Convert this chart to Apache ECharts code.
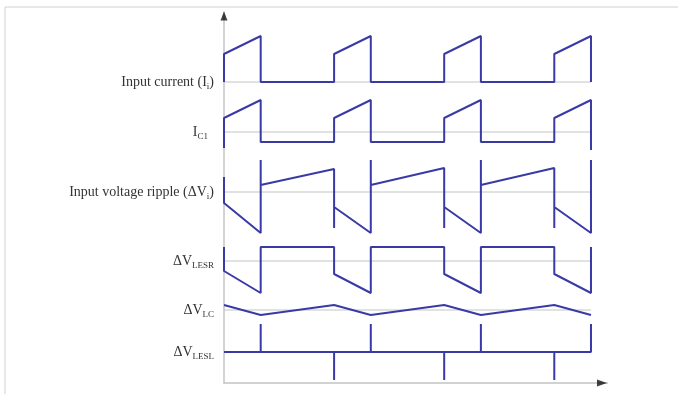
<!DOCTYPE html>
<html lang="en">
<head>
    <meta charset="utf-8">
    <script src="https://cdn.jsdelivr.net/npm/echarts@6.0.0/dist/echarts.min.js"></script>
    <title>Input ripple waveforms</title>
    <style>
        html, body { margin: 0; padding: 0; background: #fff; }
        #container { width: 678px; height: 394px; }
    </style>
</head>
<body>
<div id="container"></div>

<script type="text/javascript">
    // time in switching units: on = 1, period = 3 ; values relative to each trace's baseline
    const labelTexts = [
        'Input current (I{s|i})',
        'I{s|C1}{p|}',
        'Input voltage ripple (ΔV{s|i})',
        'ΔV{s|LESR}',
        'ΔV{s|LC}',
        'ΔV{s|LESL}'
    ];
    const offsets = [301, 251, 191, 122, 73, 31];

    const inputCurrent = [[0, 0], [0, 28], [1, 46], [1, 0], [3, 0], [3, 28], [4, 46], [4, 0],
        [6, 0], [6, 28], [7, 46], [7, 0], [9, 0], [9, 28], [10, 46], [10, 0]];
    const capCurrent = [[0, -16], [0, 14], [1, 32], [1, -10], [3, -10], [3, 14], [4, 32], [4, -10],
        [6, -10], [6, 14], [7, 32], [7, -10], [9, -10], [9, 14], [10, 32], [10, -18]];
    const inputRipple = [[0, 15], [0, -11], [1, -41], [1, 32], [1, 7], [3, 23], [3, -36], [3, -15],
        [4, -41], [4, 32], [4, 7], [6, 24], [6, -36], [6, -15], [7, -41], [7, 32], [7, 7], [9, 24],
        [9, -36], [9, -15], [10, -41], [10, 32]];
    const esrRipple = [[0, 14], [0, -10], [1, -32], [1, 14], [3, 14], [3, -13], [4, -32], [4, 14],
        [6, 14], [6, -13], [7, -32], [7, 14], [9, 14], [9, -13], [10, -32], [10, 14]];
    const capRipple = [[0, 5], [1, -5], [3, 5], [4, -5], [6, 5], [7, -5], [9, 5], [10, -5]];
    const eslRipple = [[0, 0], [1, 0], [1, 28], [1, 0], [3, 0], [3, -28], [3, 0], [4, 0], [4, 28], [4, 0],
        [6, 0], [6, -28], [6, 0], [7, 0], [7, 28], [7, 0], [9, 0], [9, -28], [9, 0], [10, 0], [10, 28]];

    const traces = [inputCurrent, capCurrent, inputRipple, esrRipple, capRipple, eslRipple];

    const dom = document.getElementById('container');
    const myChart = echarts.init(dom, null, {renderer: 'canvas'});

    const blue = '#3a3aa6';
    const gray = '#c4c4c4';

    let series = [];
    // gray reference lines
    offsets.forEach(function (off) {
        series.push({
            type: 'line',
            data: [[0, off], [10, off]],
            symbol: 'none',
            silent: true,
            z: 1,
            lineStyle: {color: gray, width: 1}
        });
    });
    traces.forEach(function (tr, i) {
        series.push({
            type: 'line',
            data: tr.map(p => [p[0], p[1] + offsets[i]]),
            symbol: 'none',
            z: 3,
            lineStyle: {color: blue, width: 2}
        });
    });
    // axis arrows
    series.push({
        type: 'scatter',
        data: [[0, 367]],
        symbol: 'triangle',
        symbolSize: [7, 9],
        itemStyle: {color: '#111'},
        z: 4
    });
    series.push({
        type: 'scatter',
        data: [[10.3, 0]],
        symbol: 'triangle',
        symbolSize: [7, 10],
        symbolRotate: -90,
        itemStyle: {color: '#111'},
        z: 4
    });

    myChart.setOption({
        animation: false,
        backgroundColor: '#fff',
        graphic: [{
            type: 'rect',
            shape: {x: 5, y: 7, width: 700, height: 400},
            style: {fill: 'none', stroke: '#d0d0d0', lineWidth: 1},
            silent: true
        }],
        grid: {left: 224, top: 12, width: 383.5, height: 371},
        xAxis: {
            type: 'value',
            min: 0,
            max: 10.45,
            axisLine: {show: true, lineStyle: {color: gray, width: 1.5}},
            axisTick: {show: false},
            axisLabel: {show: false},
            splitLine: {show: false}
        },
        yAxis: {
            type: 'value',
            min: 0,
            max: 371,
            axisLine: {show: true, lineStyle: {color: gray, width: 1.5}},
            axisTick: {show: false},
            splitLine: {show: false},
            axisLabel: {
                customValues: offsets,
                margin: 10,
                color: '#333',
                fontFamily: 'Liberation Serif',
                fontSize: 14,
                lineHeight: 18,
                formatter: function (v) {
                    return labelTexts[offsets.indexOf(v)];
                },
                rich: {
                    s: {
                        fontFamily: 'Liberation Serif',
                        fontSize: 9,
                        color: '#333',
                        verticalAlign: 'bottom',
                        lineHeight: 9
                    },
                    p: {
                        width: 6
                    }
                }
            }
        },
        series: series
    });
</script>
</body>
</html>
